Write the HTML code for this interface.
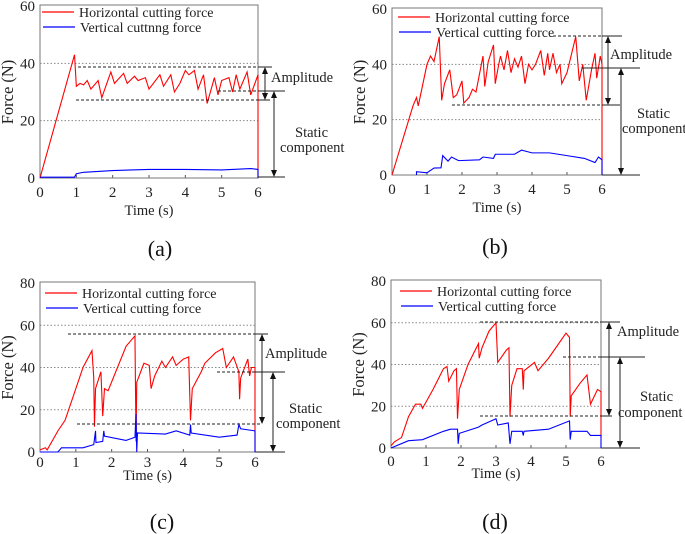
<!DOCTYPE html>
<html><head><meta charset="utf-8">
<style>
html,body{margin:0;padding:0;background:#fff;}
svg{display:block;font-family:"Liberation Serif",serif;}
</style></head>
<body>
<svg id="fig" width="685" height="534" viewBox="0 0 685 534"></svg>
<script>
// ---- data (time s, force N) ----
const aHorizT=[0,0.95,1.0,1.1,1.2,1.3,1.4,1.6,1.7,1.95,2.05,2.3,2.4,2.6,2.7,2.9,3.0,3.3,3.4,3.6,3.7,3.85,4.0,4.1,4.25,4.35,4.5,4.6,4.8,4.9,5.0,5.2,5.3,5.4,5.5,5.7,5.8,6.0,6.0];
const aHorizF=[0,43,32,33,32.5,34,31,34,28,37,33,36.5,33,35.5,34,35,31,36,32,36,30,33,37.5,36,37.5,31,36,26,35,29,34,35,30,36,31,37,29,36,0];
const aVertT=[0,0.95,1.0,1.2,2,3,4,5,5.8,6,6];
const aVertF=[0.3,0.3,1.5,2,2.6,3,3,2.8,3.3,3,0];
const bHorizT=[0,0.6,0.7,0.75,1.0,1.1,1.2,1.35,1.42,1.5,1.65,1.75,1.85,2.0,2.05,2.2,2.3,2.4,2.6,2.65,2.75,2.9,2.95,3.05,3.1,3.2,3.3,3.4,3.5,3.6,3.7,3.8,3.9,4.0,4.1,4.25,4.35,4.45,4.5,4.6,4.7,4.8,4.85,5.0,5.25,5.35,5.45,5.55,5.7,5.8,5.85,5.95,6,6];
const bHorizF=[0,25,28,25,40,43,41,50,27,33,38,28,29,34,26,28,31,30,43,32,41,47,33,40,43,38,45,37,42,39,43,33,40,38,40,45,36,44,38,44,37,40,33,37,50,34,40,27,38,44,35,43,40,0];
const bVertT=[0.7,0.7,1.0,1.2,1.4,1.45,1.6,1.7,1.9,2.5,2.6,2.9,2.95,3.5,3.7,4.0,4.5,5.0,5.5,5.8,5.9,6,6];
const bVertF=[0,1.2,0.8,2.5,2.6,7,5,6.5,5.2,5.5,6.5,6,7.5,7.5,9,8,8,7,6,4.5,6.5,5.5,0];
const cHorizT=[0,0.15,0.2,0.5,0.7,1.2,1.45,1.5,1.52,1.55,1.7,1.75,1.8,1.9,2.4,2.65,2.68,2.7,2.9,3.05,3.1,3.2,3.4,3.5,3.7,3.8,4.0,4.15,4.2,4.25,4.5,4.6,4.9,5.1,5.2,5.4,5.55,5.57,5.6,5.8,5.85,5.9,6,6];
const cHorizF=[1,2,1,10,15,40,48,35,12,30,38,17,30,29,50,55,5,33,42,41,30,36,43,40,45,41,44,45,15,30,38,42,47,49,40,45,38,25,35,44,36,40,40,0];
const cVertT=[0,0.5,0.6,1.2,1.5,1.55,1.56,1.75,1.78,1.8,2.4,2.65,2.68,2.7,2.72,3.5,3.8,4.18,4.2,4.22,5,5.5,5.55,5.6,6,6];
const cVertF=[0,0,2,2,3.5,10,4.5,5,10,7.5,5.5,7,18,0,9,8.5,10,8,13,9,7,8,13,11,10,0];
const dHorizT=[0,0.1,0.3,0.5,0.7,0.85,0.9,1.2,1.5,1.6,1.65,1.8,1.87,1.9,1.95,2.2,2.5,2.52,2.6,2.8,3.0,3.05,3.3,3.37,3.4,3.45,3.6,3.75,3.78,3.8,4.1,4.2,4.5,5.0,5.1,5.12,5.15,5.4,5.6,5.7,5.9,6,6];
const dHorizF=[1,3,5,15,21,21,19,28,38,39,32,37,38,14,28,40,50,43,48,56,60,41,47,48,15,30,38,38,28,37,41,37,43,55,53,15,25,31,35,21,28,27,5];
const dVertT=[0,0.5,0.9,1.5,1.7,1.9,1.92,1.95,2.5,2.6,3.0,3.05,3.35,3.4,3.45,3.75,3.78,3.8,4.5,5.1,5.12,5.15,5.6,5.7,6,6];
const dVertF=[0,3.5,4,8,9,9,2,7,10,11,14,11,12,2,8,8,6,8,9,13,4,8,8,6,6,0];
const xTicks=[0,1,2,3,4,5,6];
const yTicks60=[0,20,40,60];
const yTicks80=[0,20,40,60,80];

const NS="http://www.w3.org/2000/svg";
const svg=document.getElementById('fig');
function mk(tag,attrs,parent,text){
  const e=document.createElementNS(NS,tag);
  for(const k in attrs)e.setAttribute(k,attrs[k]);
  if(text!==undefined)e.textContent=text;
  (parent||svg).appendChild(e);return e;
}

const panels=[
 {id:'a',x0:40,x1:258,y0:178,yTop:6,ymax:60,yt:yTicks60,hT:aHorizT,hF:aHorizF,vT:aVertT,vF:aVertF,tickY:197,timeY:215,lab:'(a)',labX:160,labY:256,legY:12,legX:42,vLegName:'Vertical cuttnng force',timeTxt:'Time  (s)'},
 {id:'b',x0:392,x1:602,y0:175,yTop:9,ymax:60,yt:yTicks60,hT:bHorizT,hF:bHorizF,vT:bVertT,vF:bVertF,tickY:194,timeY:212,lab:'(b)',labX:495,labY:254,legY:17,legX:398,vLegName:'Vertical cutting force',timeTxt:'Time (s)'},
 {id:'c',x0:40,x1:255,y0:452,yTop:283,ymax:80,yt:yTicks80,hT:cHorizT,hF:cHorizF,vT:cVertT,vF:cVertF,tickY:467,timeY:480,lab:'(c)',labX:162,labY:529,legY:293,legX:45,vLegName:'Vertical cutting force',timeTxt:'Time (s)'},
 {id:'d',x0:391,x1:601,y0:448,yTop:281,ymax:80,yt:yTicks80,hT:dHorizT,hF:dHorizF,vT:dVertT,vF:dVertF,tickY:466,timeY:478,lab:'(d)',labX:495,labY:529,legY:291,legX:400,vLegName:'Vertical cutting force',timeTxt:'Time (s)'}
];

panels.forEach(p=>{
  const g=mk('g',{});
  
  
  const sx=t=>p.x0+(p.x1-p.x0)*t/6;
  const sy=v=>p.y0-(p.y0-p.yTop)*v/p.ymax;
  p.yt.forEach(v=>{
    if(v>0&&v<p.ymax){
      const l=mk('line',{x1:p.x0,x2:p.x1,y1:sy(v),y2:sy(v),stroke:'#888','stroke-width':1,'stroke-dasharray':'1.5,2'},g);
      
      
    }
    const t=mk('text',{x:p.x0-5,y:sy(v)+5,'text-anchor':'end','font-size':15,fill:'#222'},g,String(v));
    
    
  });
  xTicks.forEach(v=>{
    const t=mk('text',{x:sx(v),y:p.tickY,'text-anchor':'middle','font-size':15,fill:'#222'},g,String(v));
    
    
    mk('line',{x1:sx(v),x2:sx(v),y1:p.y0,y2:p.y0-3,stroke:'#555'},g);
  });
  const box=mk('rect',{x:p.x0,y:p.yTop-1,width:p.x1-p.x0,height:p.y0-p.yTop+1,fill:'none',stroke:'#777','stroke-width':1},g);
  
  
  const hp=mk('polyline',{points:p.hT.map((t,i)=>sx(t)+','+sy(p.hF[i])).join(' '),fill:'none',stroke:'#f00','stroke-width':1.1},g);
  
  
  const vp=mk('polyline',{points:p.vT.map((t,i)=>sx(t)+','+sy(p.vF[i])).join(' '),fill:'none',stroke:'#00f','stroke-width':1.1},g);
  
  
  const lg=mk('g',{},g);
  
  
  mk('line',{x1:p.legX,x2:p.legX+32,y1:p.legY,y2:p.legY,stroke:'#f00','stroke-width':1.2},lg);
  mk('text',{x:p.legX+37,y:p.legY+5,'font-size':14,fill:'#222'},lg,'Horizontal cutting force');
  mk('line',{x1:p.legX+1,x2:p.legX+33,y1:p.legY+15,y2:p.legY+15,stroke:'#00f','stroke-width':1.2},lg);
  mk('text',{x:p.legX+38,y:p.legY+20,'font-size':14,fill:'#222'},lg,p.vLegName);
  const cy=(p.y0+p.yTop)/2;
  const yl=mk('text',{x:0,y:0,transform:'translate('+(p.x0-27)+','+cy+') rotate(-90)','text-anchor':'middle','font-size':16.5,fill:'#222'},g,'Force (N)');
  
  
  const xl=mk('text',{x:(p.x0+p.x1)/2,y:p.timeY,'text-anchor':'middle','font-size':14.5,fill:'#222'},g,p.timeTxt);
  
  
  const cap=mk('text',{x:p.labX,y:p.labY,'text-anchor':'middle','font-size':22,fill:'#111'},g,p.lab);
  
  
});

function dash(x1,x2,y){mk('line',{x1:x1,x2:x2,y1:y,y2:y,stroke:'#222','stroke-width':1,'stroke-dasharray':'3,2'});}
function solid(x1,x2,y){mk('line',{x1:x1,x2:x2,y1:y,y2:y,stroke:'#222','stroke-width':1});}
function arrow(x,ya,yb){
  mk('line',{x1:x,x2:x,y1:ya+5,y2:yb-5,stroke:'#222','stroke-width':1});
  mk('polygon',{points:`${x},${ya} ${x-3},${ya+7} ${x+3},${ya+7}`,fill:'#111'});
  mk('polygon',{points:`${x},${yb} ${x-3},${yb-7} ${x+3},${yb-7}`,fill:'#111'});
}
function txt(x,y,s,name){const t=mk('text',{x:x,y:y,'font-size':14.5,fill:'#222'},svg,s);}
// a
dash(78,258,67);solid(258,272,67);arrow(265,67,100);
dash(218,258,91);solid(258,285,91);
dash(76,258,100);solid(258,270,100);
arrow(274,91,177);solid(258,285,177);
txt(271,82,'Amplitude','amplitude-label');txt(295,137,'Static','static-label');txt(280,152,'component','component-label');
// b
dash(553,602,36);solid(602,622,36);arrow(608,36,105);
solid(582,640,68);dash(452,602,105);solid(602,620,105);
arrow(621,68,175);solid(602,640,175);
txt(610,59,'Amplitude','amplitude-label');txt(637,118,'Static','static-label');txt(622,133,'component','component-label');
// c
dash(68,255,334);solid(255,268,334);arrow(262,334,424);
dash(77,262,424);dash(217,255,372);solid(255,285,372);
arrow(273,372,452);solid(255,285,452);
txt(265,358,'Amplitude','amplitude-label');txt(289,413,'Static','static-label');txt(276,428,'component','component-label');
// d
dash(480,601,322);solid(601,620,322);arrow(609,322,416);
dash(563,601,357);solid(601,645,357);
dash(480,601,416);solid(601,612,416);
arrow(620,357,448);solid(601,640,448);
txt(617,336,'Amplitude','amplitude-label');txt(640,401,'Static','static-label');txt(618,417,'component','component-label');
</script>
</body></html>
